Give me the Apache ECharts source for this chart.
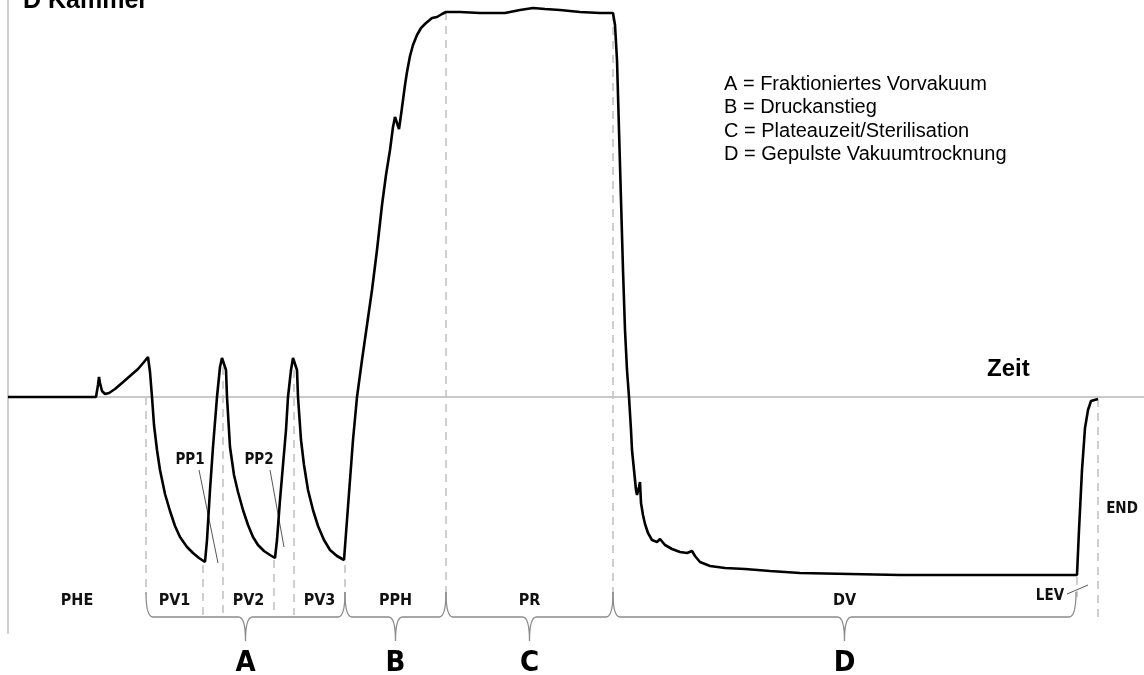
<!DOCTYPE html>
<html>
<head>
<meta charset="utf-8">
<script src="https://cdn.jsdelivr.net/npm/echarts@6/dist/echarts.min.js"></script>
<style>
html, body { margin: 0; padding: 0; background: #fff; }
#chart { width: 1144px; height: 675px; }
</style>
</head>
<body>
<div id="chart"></div>
<script>
// Kammerdruck über der Zeit, 0 = Atmosphärendruck
const zeit = [
  0, 88, 89, 90, 91, 92, 94, 97, 101, 107, 114, 122, 130, 136, 140, 141,
  142, 144, 146, 149, 152, 157, 162, 167, 172, 179, 185, 191, 197,
  199, 202, 205, 209, 212, 214, 216, 218, 219, 222, 226, 230, 235, 240, 245, 250, 256, 262, 267,
  269, 272, 275, 278, 280, 283, 285, 287, 289, 290, 293, 296, 300, 305, 310, 316, 322, 329, 336, 337,
  339, 342, 345, 349, 354, 359, 364, 369, 374, 378, 382, 385, 387, 389, 391, 393, 395, 397, 399,
  402, 405, 409, 413, 418, 424, 429, 434, 438,
  452, 472, 497, 512, 525, 537, 552, 572, 592, 605,
  607, 609, 611, 613, 615, 617, 619, 621, 623, 624, 626, 628, 629, 631, 632, 633, 635, 637, 640,
  644, 649, 652, 657, 664, 672, 679, 684, 687, 692, 702, 717, 737, 762, 792, 842, 892, 942, 992,
  1069, 1071, 1074, 1077, 1080, 1083, 1085, 1090
];
const druck = [
  0, 0, 1, 12, 20, 14, 6, 3, 4, 8, 14, 21, 28, 35, 40, 41,
  25, 0, -28, -53, -73, -97, -114, -129, -140, -150, -156, -161, -165,
  -143, -93, -50, 0, 30, 39, 40, 27, 0, -50, -78, -95, -113, -128, -140, -148, -154, -158, -161,
  -143, -103, -68, -33, 0, 27, 39, 40, 27, 0, -43, -68, -93, -113, -129, -143, -153, -159, -163, -165,
  -123, -83, -43, 0, 37, 72, 107, 147, 192, 222, 247, 270, 280, 279, 268, 282, 297, 312, 325,
  341, 352, 362, 369, 374, 379, 380, 383, 385,
  385, 384, 384, 387, 389, 388, 387, 385, 384, 384,
  372, 337, 267, 197, 127, 67, 27, 0, -33, -53, -73, -93, -98, -90, -85, -106, -118, -127, -136,
  -143, -145, -142, -148, -152, -155, -156, -154, -159, -165, -169, -171, -172, -174, -176, -177, -178, -178, -178,
  -178, -133, -73, -31, -13, -4, -2, -2
];

// Phasen
const phaseNames = ['PHE', 'PV1', 'PV2', 'PV3', 'PPH', 'PR', 'DV'];
const phaseStart = [0, 138, 215, 286, 337, 438, 605];
const phaseEnd = [138, 195, 266, 337, 438, 605, 1068];

// gestrichelte Phasengrenzen
const boundaryTime = [138, 195, 215, 266, 286, 337, 438, 605, 1069, 1090];
const boundaryTop = [0, -168, 30, -163, 27, -168, 385, 384, -180, -2];
const boundaryBottom = [-197, -218, -218, -218, -218, -197, -197, -197, -200, -224];

// Abschnitte A-D
const groupNames = ['A', 'B', 'C', 'D'];
const groupStart = [138, 337, 438, 605];
const groupEnd = [337, 438, 605, 1068];

// Beschriftungen mit Hinweislinie
const noteNames = ['PP1', 'PP2', 'LEV', 'END'];
const noteTime = [182, 251, 1042, 1114];
const noteDruck = [-63, -63, -199, -112];
const leaderFrom = [[191, -73], [262, -73], [1059, -197]];
const leaderTo = [[210, -166], [276, -150], [1080, -188]];

const legendLines = [
  'A = Fraktioniertes Vorvakuum',
  'B = Druckanstieg',
  'C = Plateauzeit/Sterilisation',
  'D = Gepulste Vakuumtrocknung'
];

const narrow = '"Liberation Sans Narrow", "DejaVu Sans Condensed", sans-serif';
const LABEL_P = -204;
const BRACE_P = -220;
const BRACE_END_P = -195;

const chart = echarts.init(document.getElementById('chart'));

const option = {
  animation: false,
  grid: { left: 8, right: 0, top: 0, bottom: 42 },
  xAxis: {
    type: 'value', min: 0, max: 1136,
    axisLine: { show: true, onZero: true, lineStyle: { color: '#b8b8b8', width: 1.6 } },
    axisTick: { show: false }, axisLabel: { show: false }, splitLine: { show: false }
  },
  yAxis: {
    type: 'value', min: -236, max: 397,
    axisLine: { show: true, lineStyle: { color: '#cfcfcf', width: 2 } },
    axisTick: { show: false }, axisLabel: { show: false }, splitLine: { show: false }
  },
  graphic: [
    {
      type: 'text', left: 23, top: -11,
      style: { text: 'D Kammer', font: 'bold 25px "Liberation Sans", Arial, sans-serif', fill: '#000' }
    },
    {
      type: 'text', left: 987, top: 357,
      style: { text: 'Zeit', font: 'bold 24px "Liberation Sans", Arial, sans-serif', fill: '#000' }
    },
    ...legendLines.map((t, i) => ({
      type: 'text', left: 724, top: 74 + i * 23.5,
      style: { text: t, font: '20px "Liberation Sans", Arial, sans-serif', fill: '#000' }
    }))
  ],
  series: [
    {
      // gestrichelte Grenzen
      type: 'custom',
      z: 1,
      data: boundaryTime.map((t, i) => [t, boundaryTop[i], boundaryBottom[i]]),
      renderItem: (params, api) => {
        const a = api.coord([api.value(0), api.value(1)]);
        const b = api.coord([api.value(0), api.value(2)]);
        return {
          type: 'line',
          shape: { x1: a[0], y1: a[1], x2: b[0], y2: b[1] },
          style: { stroke: '#c4c4c4', lineWidth: 1.6, lineDash: [8, 6] }
        };
      }
    },
    {
      // Klammern und Buchstaben
      type: 'custom',
      z: 2,
      data: groupStart.map((s, i) => [s, groupEnd[i], groupNames[i]]),
      renderItem: (params, api) => {
        const x1 = api.coord([api.value(0), 0])[0];
        const x2 = api.coord([api.value(1), 0])[0];
        const y = api.coord([0, BRACE_P])[1];
        const yEnd = api.coord([0, BRACE_END_P])[1];
        const xm = (x1 + x2) / 2;
        const r = 7;
        const d = 'M' + x1 + ' ' + yEnd +
          ' Q' + x1 + ' ' + y + ' ' + (x1 + r) + ' ' + y +
          ' L' + (xm - r) + ' ' + y +
          ' Q' + xm + ' ' + y + ' ' + xm + ' ' + (y + 24) +
          ' Q' + xm + ' ' + y + ' ' + (xm + r) + ' ' + y +
          ' L' + (x2 - r) + ' ' + y +
          ' Q' + x2 + ' ' + y + ' ' + x2 + ' ' + yEnd;
        return {
          type: 'group',
          children: [
            { type: 'path', shape: { pathData: d }, style: { stroke: '#8c8c8c', lineWidth: 1.3, fill: null } },
            {
              type: 'text',
              style: {
                text: api.value(2), x: xm, y: y + 46,
                textAlign: 'center', textVerticalAlign: 'middle',
                align: 'center', verticalAlign: 'middle',
                font: 'bold 29px ' + narrow, fill: '#000'
              }
            }
          ]
        };
      }
    },
    {
      // Phasennamen
      type: 'custom',
      z: 3,
      data: phaseNames.map((n, i) => [(phaseStart[i] + phaseEnd[i]) / 2, LABEL_P, n]),
      renderItem: (params, api) => {
        const c = api.coord([api.value(0), api.value(1)]);
        return {
          type: 'text',
          style: {
            text: api.value(2), x: c[0], y: c[1],
            textAlign: 'center', textVerticalAlign: 'middle',
            align: 'center', verticalAlign: 'middle',
            font: 'bold 16px ' + narrow, fill: '#111'
          }
        };
      }
    },
    {
      // Hinweislinien
      type: 'custom',
      z: 3,
      data: leaderFrom.map((f, i) => [f[0], f[1], leaderTo[i][0], leaderTo[i][1]]),
      renderItem: (params, api) => {
        const a = api.coord([api.value(0), api.value(1)]);
        const b = api.coord([api.value(2), api.value(3)]);
        return {
          type: 'line',
          shape: { x1: a[0], y1: a[1], x2: b[0], y2: b[1] },
          style: { stroke: '#555', lineWidth: 1 }
        };
      }
    },
    {
      type: 'custom',
      z: 3,
      data: noteNames.map((n, i) => [noteTime[i], noteDruck[i], n]),
      renderItem: (params, api) => {
        const c = api.coord([api.value(0), api.value(1)]);
        return {
          type: 'text',
          style: {
            text: api.value(2), x: c[0], y: c[1],
            textAlign: 'center', textVerticalAlign: 'middle',
            align: 'center', verticalAlign: 'middle',
            font: 'bold 15px ' + narrow, fill: '#111'
          }
        };
      }
    },
    {
      name: 'Kammerdruck',
      type: 'line',
      z: 5,
      showSymbol: false,
      smooth: false,
      data: zeit.map((t, i) => [t, druck[i]]),
      lineStyle: { color: '#000', width: 2.6 }
    }
  ]
};

chart.setOption(option);
</script>
</body>
</html>
